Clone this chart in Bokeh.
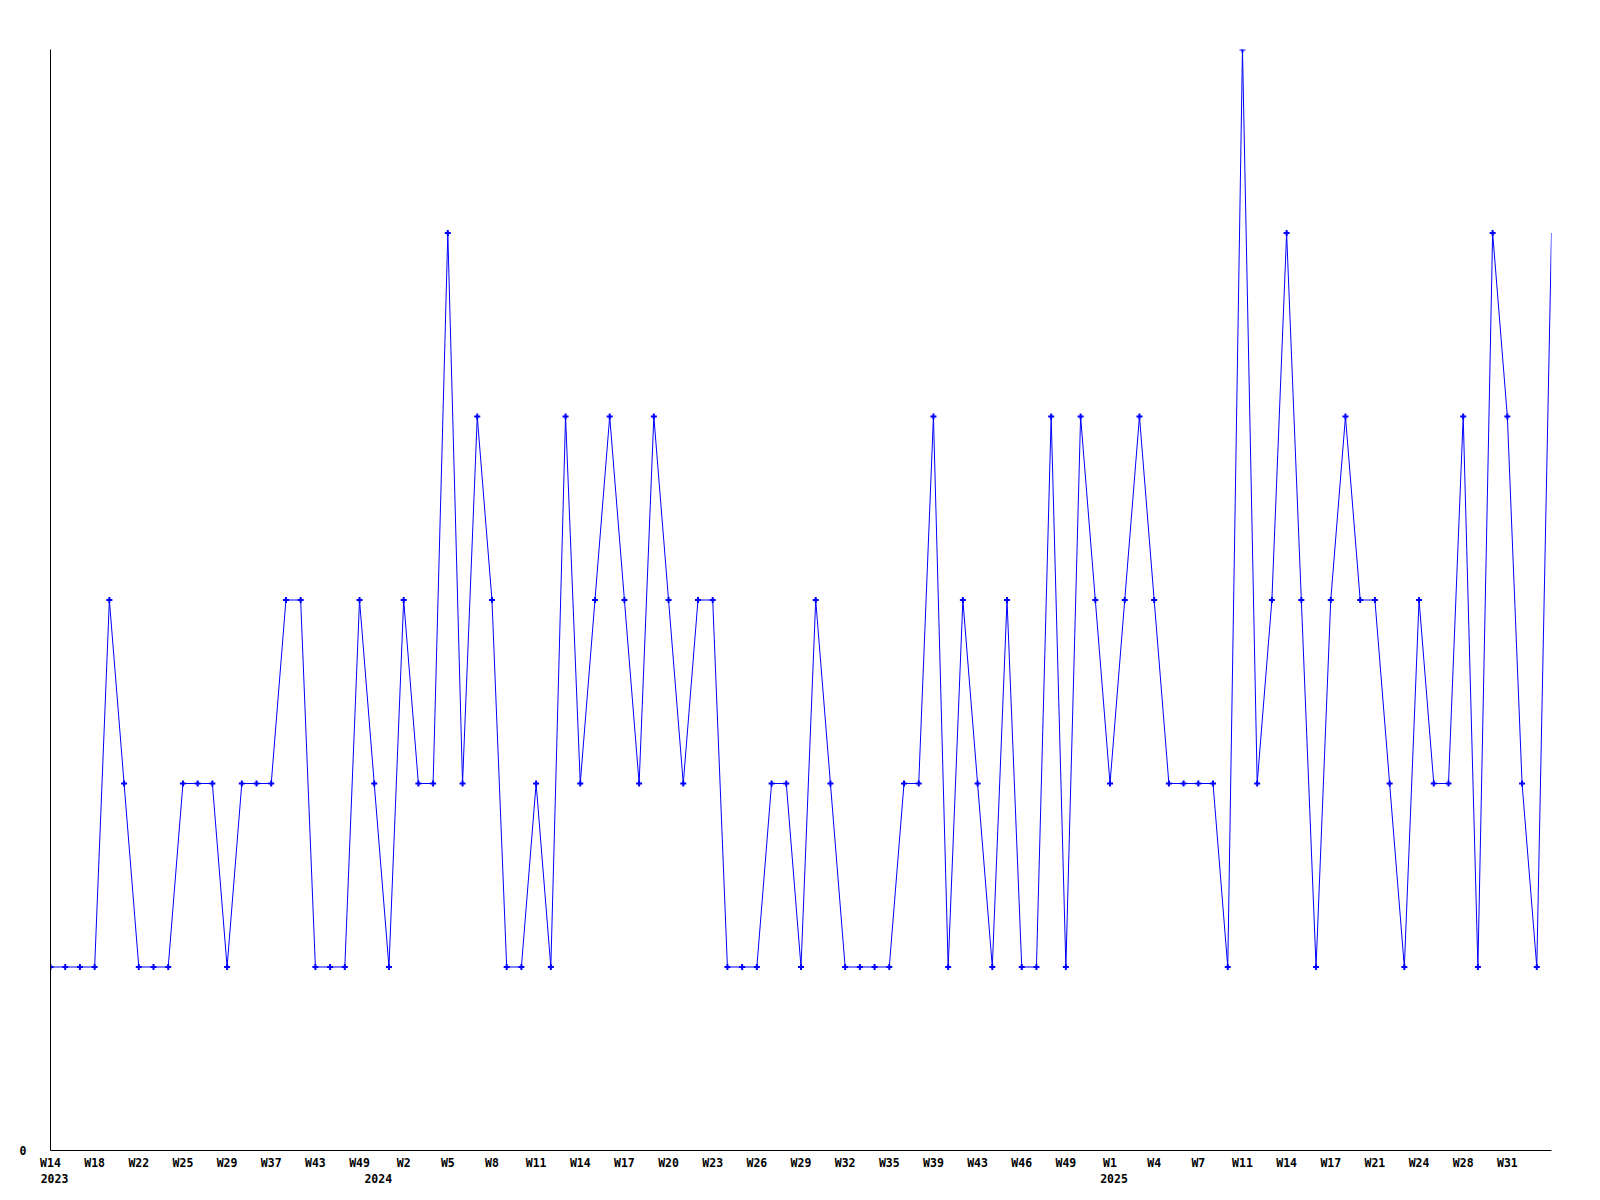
from bokeh.plotting import figure
from bokeh.models import FixedTicker, LinearAxis, Range1d
from bokeh.embed import file_html
from bokeh.resources import INLINE

# weekly counts (103 consecutive data points)
values = [1, 1, 1, 1, 3, 2, 1, 1, 1, 2,
          2, 2, 1, 2, 2, 2, 3, 3, 1, 1,
          1, 3, 2, 1, 3, 2, 2, 5, 2, 4,
          3, 1, 1, 2, 1, 4, 2, 3, 4, 3,
          2, 4, 3, 2, 3, 3, 1, 1, 1, 2,
          2, 1, 3, 2, 1, 1, 1, 1, 2, 2,
          4, 1, 3, 2, 1, 3, 1, 1, 4, 1,
          4, 3, 2, 3, 4, 3, 2, 2, 2, 2,
          1, 6, 2, 3, 5, 3, 1, 3, 4, 3,
          3, 2, 1, 3, 2, 2, 4, 1, 5, 4,
          2, 1, 5]

# week tick labels, one every 3rd data point
week_labels = ["W14", "W18", "W22", "W25", "W29", "W37", "W43", "W49", "W2",
               "W5", "W8", "W11", "W14", "W17", "W20", "W23", "W26", "W29",
               "W32", "W35", "W39", "W43", "W46", "W49", "W1", "W4", "W7",
               "W11", "W14", "W17", "W21", "W24", "W28", "W31"]
label_step = 3

# year labels and the data point where each year starts
year_labels = ["2023", "2024", "2025"]
year_index = [0, 22, 72]

y_max = 6

FONT = "DejaVu Sans Mono"
n = len(values)
x = list(range(n))

BL, BR, BT, BB = 50, 41, 49, 42
W, H = 1592, 1192

p = figure(width=W, height=H, output_backend="svg", toolbar_location=None,
           x_range=Range1d(0, n - 1), y_range=Range1d(0, y_max),
           min_border_left=BL, min_border_right=BR, min_border_top=BT,
           min_border_bottom=BB, background_fill_color="white",
           border_fill_color="white")
p.outline_line_color = None
p.grid.visible = False

p.line(x, values, line_color="#0000ff", line_width=1)
p.scatter(x[:-1], values[:-1], marker="cross", size=6, line_width=2,
          line_color="#0000ff")


def style_axis(ax, standoff):
    ax.major_tick_out = 0
    ax.major_tick_in = 0
    ax.minor_tick_out = 0
    ax.minor_tick_in = 0
    ax.major_label_standoff = standoff
    ax.major_label_text_font = FONT
    ax.major_label_text_font_style = "bold"
    ax.major_label_text_font_size = "11.5px"
    ax.major_label_text_color = "black"


# main bottom axis: the line only
xa = p.xaxis[0]
style_axis(xa, 0)
xa.ticker = FixedTicker(ticks=[])
xa.axis_line_color = "black"
xa.major_label_text_font_size = "0px"

# week labels
week_ticks = [i * label_step for i in range(len(week_labels))]
wk = LinearAxis(ticker=FixedTicker(ticks=week_ticks))
wk.major_label_overrides = {t: lab for t, lab in zip(week_ticks, week_labels)}
wk.axis_line_color = None
style_axis(wk, 5)
p.add_layout(wk, "below")

# year labels (left edge in line with the week labels)
px_per_pt = (W - BL - BR) / (n - 1)
shift = -4.0 / px_per_pt
p.extra_x_ranges = {"yr": Range1d(shift, n - 1 + shift)}
yr = LinearAxis(x_range_name="yr", ticker=FixedTicker(ticks=year_index))
yr.major_label_overrides = {t: lab for t, lab in zip(year_index, year_labels)}
yr.axis_line_color = None
style_axis(yr, 1)
p.add_layout(yr, "below")

ya = p.yaxis[0]
style_axis(ya, 24)
ya.ticker = FixedTicker(ticks=[0])
ya.axis_line_color = "black"

open("out.html", "w").write(file_html(p, INLINE))
